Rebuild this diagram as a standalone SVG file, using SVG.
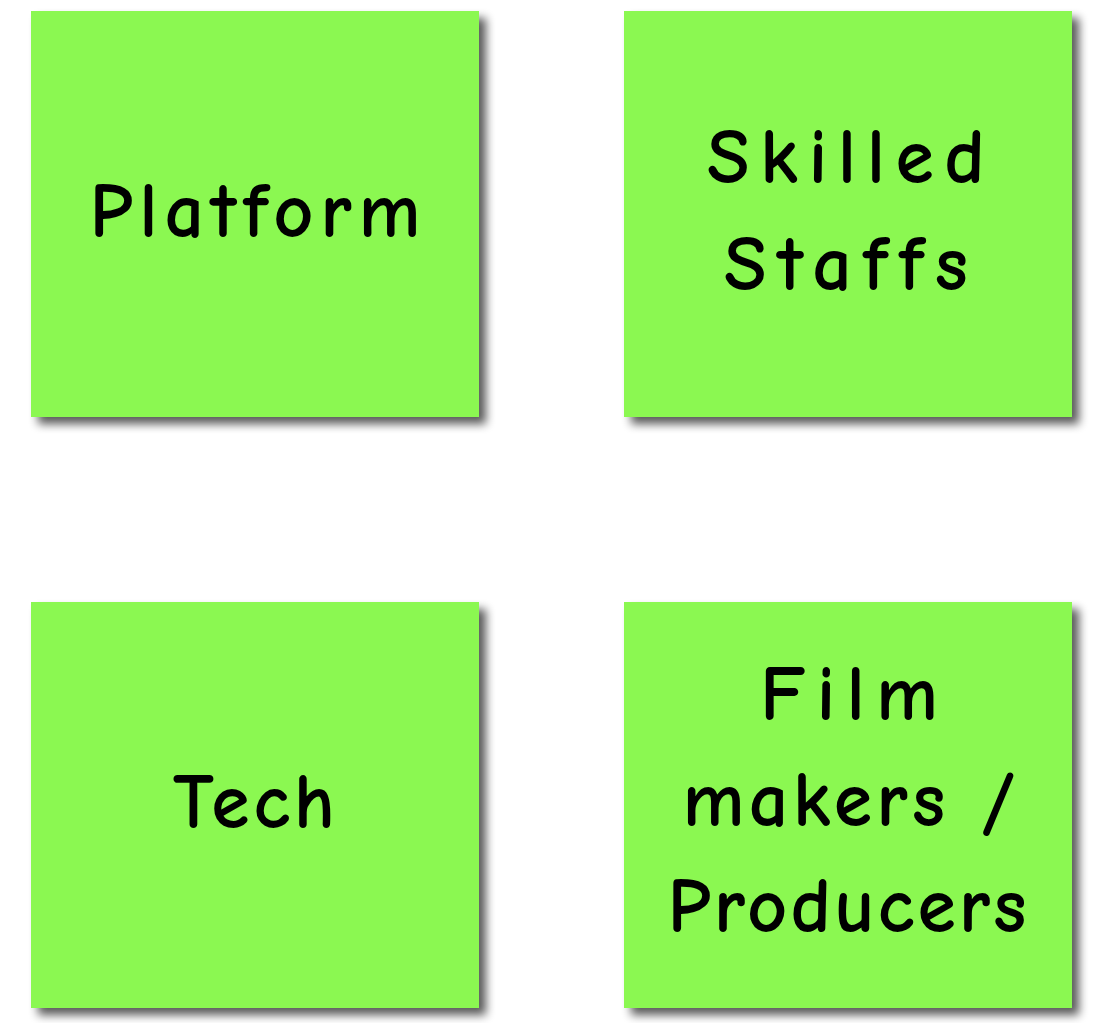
<svg xmlns="http://www.w3.org/2000/svg" width="1101" height="1023" viewBox="0 0 1101 1023">
<style>
.note{fill:#8bf851;filter:url(#sh)}
.lbl{font-family:"Comic Neue","Liberation Sans","DejaVu Sans",sans-serif;font-size:78px;font-weight:bold;fill:#000;text-anchor:middle}
</style>
<defs>
<filter id="sh" x="-10%" y="-10%" width="125%" height="125%">
<feGaussianBlur in="SourceAlpha" stdDeviation="5"/>
<feOffset dx="7" dy="7" result="b"/>
<feComponentTransfer in="b" result="c"><feFuncA type="linear" slope="0.65"/></feComponentTransfer>
<feMerge><feMergeNode in="c"/><feMergeNode in="SourceGraphic"/></feMerge>
</filter>
</defs>
<rect width="1101" height="1023" fill="#fff"/>
<g id="platform">
<rect class="note" x="31" y="11" width="448" height="406"/>
<text class="lbl" x="255" y="237" textLength="331" lengthAdjust="spacing">Platform</text>
</g>
<g id="skilled-staffs">
<rect class="note" x="624" y="11" width="448" height="406"/>
<text class="lbl" x="846" y="183" textLength="278" lengthAdjust="spacing">Skilled</text>
<text class="lbl" x="846" y="290" textLength="244" lengthAdjust="spacing">Staffs</text>
</g>
<g id="tech">
<rect class="note" x="31" y="602" width="448" height="406"/>
<text class="lbl" x="254" y="828" textLength="162" lengthAdjust="spacing">Tech</text>
</g>
<g id="film-makers">
<rect class="note" x="624" y="602" width="448" height="406"/>
<text class="lbl" x="849" y="720" textLength="178" lengthAdjust="spacing">Film</text>
<text class="lbl" x="849" y="826" textLength="333" lengthAdjust="spacing">makers /</text>
<text class="lbl" x="847" y="932" textLength="359" lengthAdjust="spacing">Producers</text>
</g>
<g id="connectors"></g>
</svg>
